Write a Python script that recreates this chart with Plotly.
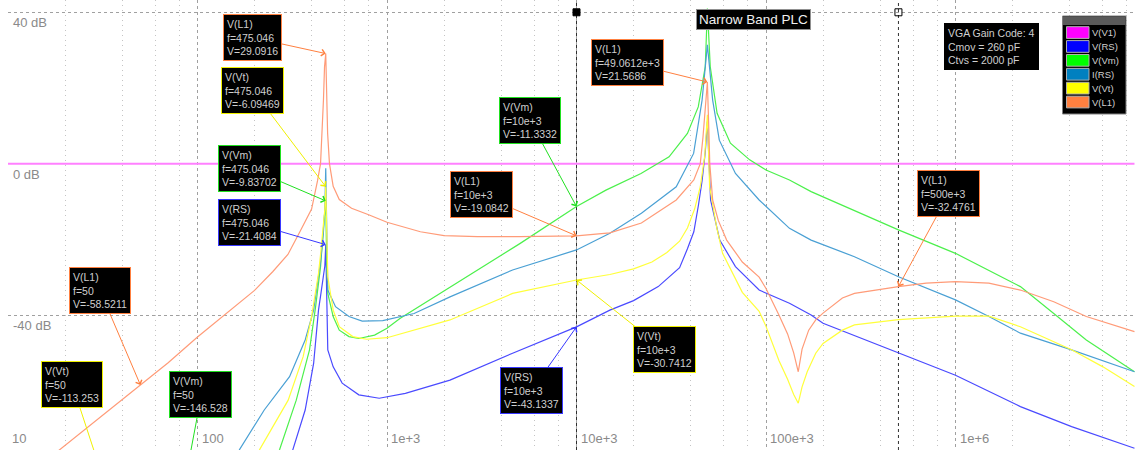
import numpy as np
import plotly.graph_objects as go

# ---------------- data ----------------
series_names = ["V(V1)", "V(RS)", "V(Vm)", "I(RS)", "V(Vt)", "V(L1)"]
line_colors = ["#ff80ff", "#4a4aff", "#4cf04c", "#4aa0d4", "#ffff3a", "#ff9b78"]
legend_colors = ["#ff00ff", "#0000ff", "#00ff00", "#0080c0", "#ffff00", "#ff8040"]

f_v1 = [10, 8.8e6]
db_v1 = [0, 0]

f_rs = [318, 370, 410, 435, 446, 462, 470, 475.046, 480, 487, 520, 580, 710, 910, 1250,
        2150, 4600, 10e3, 15e3, 20e3, 27e3, 35e3, 38.5e3, 41.6e3, 44e3, 46e3, 47.8e3,
        49.0612e3, 51e3, 57e3, 69e3, 92e3, 133e3, 173e3, 200e3, 500e3, 1e6, 2.2e6, 4.1e6, 8.8e6]
db_rs = [-75.7, -65.1, -52.8, -38.7, -35, -30, -27, -21.4084, -35, -49.2, -53.7, -58, -61.1, -62, -60.7,
         -57.2, -50.1, -43.1337, -38.7, -36.2, -32.5, -27.5, -22.5, -18, -11, -4.5, 3,
         11.1, -9.6, -20.2, -27.2, -33.4, -36.9, -40, -42.2, -50.1, -55.9, -64.2, -69.5, -75.2]

f_vm = [50, 271, 332, 390, 420, 446, 462, 470, 475.046, 480, 487, 520, 560, 630, 710, 860, 1000,
        1170, 2000, 5000, 10e3, 14.3e3, 21.9e3, 30.8e3, 38.5e3, 43.9e3, 47.8e3, 49.0612e3, 50.8e3,
        55.2e3, 64.9e3, 82e3, 100e3, 133e3, 173e3, 500e3, 1e6, 2.2e6, 3.3e6, 4.9e6, 8.8e6]
db_vm = [-146.528, -75.6, -62.5, -49.2, -37.8, -27.2, -17, -12, -9.83702, -25, -34.3, -40.4, -44, -45.7,
         -46.2, -45.3, -43.5, -40.9, -33.6, -21.2, -11.3332, -7, -2.6, 1.8, 8, 15, 25.6, 41, 25.6,
         13.3, 5.4, 1, -1.7, -4.3, -7.4, -17.5, -23.7, -32.5, -39.6, -46.6, -55]

f_irs = [166, 225, 306, 370, 410, 435, 446, 462, 470, 475.046, 480, 487, 535, 630, 740, 950, 1390,
         2150, 4600, 10e3, 15e3, 22e3, 33.6e3, 41.5e3, 46e3, 49.0612e3, 52.3e3, 56.7e3, 69e3, 92e3,
         133e3, 173e3, 293e3, 500e3, 1e6, 1.5e6, 2.2e6, 4.1e6, 8.8e6]
db_irs = [-75.7, -65.1, -56.3, -46.6, -38.7, -29.9, -26, -18, -12, -1.2, -20, -33.4, -37.8, -40.4,
          -41.6, -41.5, -39.6, -35.2, -28.1, -22.8, -18.4, -13.1, -6.1, 2.7, 16.8, 31.4, 16.8, 6.2,
          -2.6, -9.6, -17.1, -20.2, -24.6, -29.9, -36, -40.4, -44.8, -49.2, -55]

f_vt = [50, 212, 301, 361, 400, 435, 446, 462, 470, 475.046, 480, 487, 520, 560, 660, 780, 1000,
        1490, 2150, 4600, 10e3, 15e3, 20e3, 25e3, 30e3, 35e3, 38.5e3, 42e3, 45e3, 47.5e3, 49.0612e3,
        50.4e3, 55e3, 59e3, 75e3, 92e3, 100e3, 117e3, 130e3, 140e3, 148e3, 155e3, 165e3, 183e3,
        200e3, 253e3, 293e3, 500e3, 1e6, 1.5e6, 2.2e6, 4.1e6, 6e6, 8.8e6]
db_vt = [-113.253, -75.7, -62.5, -51, -40.4, -29, -24, -16, -12, -6.09469, -20, -29.9, -38.7, -43.1,
         -45.7, -46.4, -46, -43.5, -41.3, -34.3, -30.7412, -29.3, -27.8, -26, -23.5, -20.5, -17, -12,
         -6.1, 2, 12.9, -6.1, -17, -23.7, -34, -39, -43, -52, -57, -61, -63.3, -59, -55, -50.1,
         -47.5, -44, -42.6, -41.2, -40.3, -40.3, -43.1, -49.2, -53.7, -58.9]

f_l1 = [18, 30, 50, 70, 100, 150, 200, 250, 300, 347, 400, 430, 446, 462, 468, 475.046, 479, 481,
        486, 497, 520, 560, 650, 800, 1000, 1500, 2000, 3000, 5000, 10e3, 15e3, 22e3, 33.6e3,
        41.6e3, 45e3, 46.5e3, 48e3, 49.0612e3, 50e3, 50.5e3, 52.3e3, 56e3, 62e3, 75e3, 92e3,
        100e3, 117e3, 130e3, 140e3, 148e3, 155e3, 168e3, 183e3, 200e3, 253e3, 293e3, 500e3,
        700e3, 1e6, 1.5e6, 2.2e6, 3.3e6, 4.9e6, 8.8e6]
db_l1 = [-76.3, -67.4, -58.5211, -52.6, -45.8, -38.5, -33.5, -28.5, -24, -18, -12, -4.5, 0, 16.8,
         25.5, 29.0916, 22, 16.8, 8, 0, -6, -9.5, -11.8, -13.5, -15.5, -18, -19, -19.3, -19.3,
         -19.0842, -18.3, -15.7, -9.6, -4.3, 0, 7, 15, 21.5686, 8, 0, -9.6, -15, -20.2, -26, -30,
         -33, -40, -45, -50, -55, -49, -44, -41.3, -39.5, -35.5, -34.3, -32.4761,
         -31.6, -31.2, -31.6, -33.4, -36.5, -40.4, -44.4]

series_f = [f_v1, f_rs, f_vm, f_irs, f_vt, f_l1]
series_db = [db_v1, db_rs, db_vm, db_irs, db_vt, db_l1]
for a, b in zip(series_f, series_db):
    assert len(a) == len(b)

# marker (probe) annotations
mk_series = ["V(L1)", "V(Vt)", "V(Vm)", "V(RS)", "V(L1)", "V(Vt)", "V(Vm)",
             "V(Vm)", "V(L1)", "V(L1)", "V(RS)", "V(Vt)", "V(L1)"]
mk_freq = [475.046, 475.046, 475.046, 475.046, 50, 50, 50, 10e3, 10e3, 49.0612e3, 10e3, 10e3, 500e3]
mk_flabel = ["475.046", "475.046", "475.046", "475.046", "50", "50", "50",
             "10e+3", "10e+3", "49.0612e+3", "10e+3", "10e+3", "500e+3"]
mk_value = [29.0916, -6.09469, -9.83702, -21.4084, -58.5211, -113.253, -146.528,
            -11.3332, -19.0842, 21.5686, -43.1337, -30.7412, -32.4761]
mk_vlabel = ["29.0916", "-6.09469", "-9.83702", "-21.4084", "-58.5211", "-113.253", "-146.528",
             "-11.3332", "-19.0842", "21.5686", "-43.1337", "-30.7412", "-32.4761"]

cursor_freqs = [10e3, 500e3]

xtick_vals = [10, 100, 1e3, 10e3, 100e3, 1e6]
xtick_text = ["10", "100", "1e+3", "10e+3", "100e+3", "1e+6"]
ytick_vals = [40, 0, -40]
ytick_text = ["40 dB", "0 dB", "-40 dB"]

info_lines = ["VGA Gain Code: 4", "Cmov = 260 pF", "Ctvs = 2000 pF"]
title_text = "Narrow Band PLC"

# ---------------- layout geometry (pixels) ----------------
W, H = 1135, 450
ML = 8
PX_DEC = 189.5
Y0_PX = 163.65
PX_DB = 3.784
x_range = [1.0, 1.0 + (W - ML) / PX_DEC]
y_range = [-(H - Y0_PX) / PX_DB, Y0_PX / PX_DB]


def px_to_paper(px, py):
    return (px - ML) / (W - ML), 1 - py / H


def data_to_px(f, v):
    return ML + (np.log10(f) - 1.0) * PX_DEC, Y0_PX - v * PX_DB


def px_to_data(px, py):
    return 10 ** (1.0 + (px - ML) / PX_DEC), (Y0_PX - py) / PX_DB


mk_box_px = [(252.5, 37.5), (253, 90.5), (250, 168.5), (250, 222.5), (100, 290.5), (71.5, 384.5),
             (200, 394.5), (530, 120.5), (481, 195), (628, 62.5), (531.5, 390.5), (664, 349.5),
             (949, 193.5)]
mk_lead_px = {5: (80, 408), 6: (197, 418)}

box_border = {"V(L1)": "#ff8040", "V(Vt)": "#f0f000", "V(Vm)": "#20e020", "V(RS)": "#3838ff"}
TXT = "#cfcfcf"
FONT = "Liberation Sans, Arial, sans-serif"

fig = go.Figure()
for name, f, db, col in zip(series_names, series_f, series_db, line_colors):
    fig.add_trace(go.Scatter(x=f, y=db, mode="lines", name=name,
                             line=dict(color=col, width=2 if name == "V(V1)" else 1.2),
                             showlegend=False, hoverinfo="skip"))

# cursor end markers
fig.add_trace(go.Scatter(x=cursor_freqs, y=[40, 40], mode="markers", showlegend=False,
                         marker=dict(symbol=["square", "square-open"], size=7, color="#000000",
                                     line=dict(width=1, color="#000000")),
                         cliponaxis=False, hoverinfo="skip"))

shapes = []
annotations = []

# cursor lines
for cf in cursor_freqs:
    shapes.append(dict(type="line", xref="x", yref="paper", x0=cf, x1=cf, y0=0, y1=1,
                       line=dict(color="#303030", width=1, dash="3px,3px"), layer="below"))

# probe annotations
for i in range(len(mk_series)):
    col = box_border[mk_series[i]]
    text = f"{mk_series[i]}<br>f={mk_flabel[i]}<br>V={mk_vlabel[i]}"
    bx, by = mk_box_px[i]
    common = dict(text=text, align="left", font=dict(family=FONT, size=10.5, color=TXT),
                  bgcolor="#000000", bordercolor=col, borderwidth=1, borderpad=3)
    hx, hy = data_to_px(mk_freq[i], mk_value[i])
    if 0 <= hy <= H:
        annotations.append(dict(x=np.log10(mk_freq[i]), y=mk_value[i], xref="x", yref="y",
                                ax=bx - hx, ay=by - hy, showarrow=True, arrowhead=4,
                                arrowsize=1.3, arrowwidth=1, arrowcolor=col, **common))
    else:
        px_, py_ = px_to_paper(bx, by)
        annotations.append(dict(x=px_, y=py_, xref="paper", yref="paper", showarrow=False,
                                xanchor="center", yanchor="middle", **common))
        lx, ly = px_to_data(*mk_lead_px[i])
        shapes.append(dict(type="line", xref="x", yref="y", x0=mk_freq[i], y0=mk_value[i],
                           x1=lx, y1=ly, line=dict(color=col, width=1)))

# tick labels drawn inside the plot
for v, t in zip(ytick_vals, ytick_text):
    annotations.append(dict(x=px_to_paper(11, 0)[0], y=v, xref="paper", yref="y", text=t,
                            showarrow=False, xanchor="left", yanchor="middle", yshift=-10.7,
                            font=dict(family=FONT, size=13, color="#8a8a8a")))
for v, t in zip(xtick_vals, xtick_text):
    annotations.append(dict(x=np.log10(v), y=1 - 438 / H, xref="x", yref="paper", text=t,
                            showarrow=False, xanchor="left", yanchor="middle", xshift=2,
                            font=dict(family=FONT, size=13, color="#8a8a8a")))

# title box
tx, ty = px_to_paper(753.5, 20)
annotations.append(dict(x=tx, y=ty, xref="paper", yref="paper", text=title_text, showarrow=False,
                        xanchor="center", yanchor="middle",
                        font=dict(family=FONT, size=13.5, color="#f0f0f0"), bgcolor="#000000",
                        bordercolor="#909090", borderwidth=1, borderpad=2))
# info box
ix, iy = px_to_paper(991.8, 46.5)
annotations.append(dict(x=ix, y=iy, xref="paper", yref="paper", text="<br>".join(info_lines),
                        align="left", showarrow=False, xanchor="center", yanchor="middle",
                        font=dict(family=FONT, size=10.5, color=TXT),
                        bgcolor="#000000", bordercolor="#000000", borderwidth=1, borderpad=3))

# legend box (drawn manually)
lx0, ly0 = px_to_paper(1062.5, 16)
lx1, ly1 = px_to_paper(1126, 114)
shapes.append(dict(type="rect", xref="paper", yref="paper", x0=lx0, x1=lx1, y0=ly1, y1=ly0,
                   fillcolor="#000000", line=dict(color="#808080", width=1)))
hx0, hy0 = px_to_paper(1063, 16.5)
hx1, hy1 = px_to_paper(1125.5, 25)
shapes.append(dict(type="rect", xref="paper", yref="paper", x0=hx0, x1=hx1, y0=hy1, y1=hy0,
                   fillcolor="#5a5a5a", line=dict(width=0)))
for k, (name, col) in enumerate(zip(series_names, legend_colors)):
    top = 26.7 + k * 13.9
    sx0, sy0 = px_to_paper(1066.5, top)
    sx1, sy1 = px_to_paper(1089, top + 11.7)
    shapes.append(dict(type="rect", xref="paper", yref="paper", x0=sx0, x1=sx1, y0=sy1, y1=sy0,
                       fillcolor=col, line=dict(color="#b0b0b0", width=1)))
    tx_, ty_ = px_to_paper(1090, top + 5.8)
    annotations.append(dict(x=tx_, y=ty_, xref="paper", yref="paper", text=name, showarrow=False,
                            xanchor="left", yanchor="middle",
                            font=dict(family=FONT, size=9.5, color=TXT)))

minor_vals = [m * 10 ** d for d in range(1, 7) for m in (2, 4, 6, 8)]

fig.update_layout(
    width=W, height=H, autosize=False,
    margin=dict(l=ML, r=0, t=0, b=0, pad=0),
    plot_bgcolor="#ffffff", paper_bgcolor="#ffffff",
    showlegend=False, hovermode=False,
    shapes=shapes, annotations=annotations,
    xaxis=dict(type="log", range=x_range, showticklabels=False, ticks="",
               tickmode="array", tickvals=xtick_vals[1:], showgrid=True,
               gridcolor="#a0a0a0", griddash="3px,3px", gridwidth=1,
               zeroline=False, showline=False,
               minor=dict(tickmode="array", tickvals=minor_vals, showgrid=True,
                          gridcolor="#c4c4c4", griddash="1px,4px", gridwidth=1, ticks="")),
    yaxis=dict(range=y_range, showticklabels=False, ticks="", tickmode="array",
               tickvals=ytick_vals, showgrid=True, gridcolor="#a0a0a0", griddash="3px,3px",
               gridwidth=1, zeroline=False, showline=False),
)

fig.write_html("out.html", config={"displayModeBar": False},
               post_script="document.body.style.margin='0px';document.body.style.overflow='hidden';")
